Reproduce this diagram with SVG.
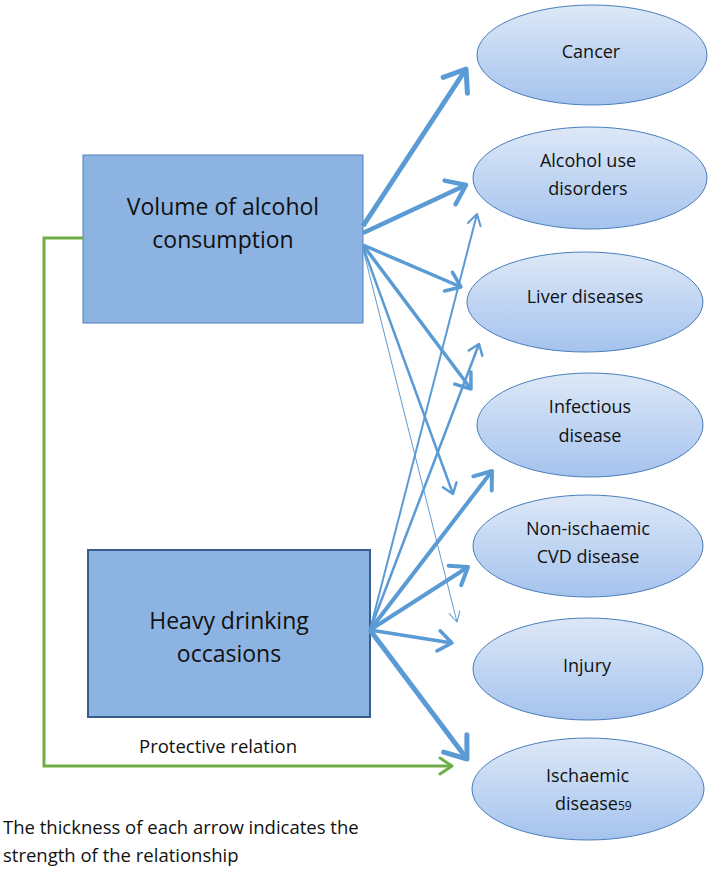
<svg xmlns="http://www.w3.org/2000/svg" width="709" height="869" viewBox="0 0 709 869">
  <style>
    text { font-family: "Open Sans", "Liberation Sans", sans-serif; fill: #111; }
    .box { fill: #8db3e2; }
    .ell { fill: url(#eg); stroke: #4a7ebb; stroke-width: 1; }
    .lbl { font-size: 18px; text-anchor: middle; }
    .big { font-size: 23px; text-anchor: middle; }
    .note { font-size: 18.5px; }
    .c { stroke: #5b9bd5; fill: none; }
    .g { stroke: #70ad47; fill: none; stroke-width: 3; }
  </style>
  <defs>
    <linearGradient id="eg" x1="0" y1="0" x2="0" y2="1">
      <stop offset="0" stop-color="#dde8f7"/>
      <stop offset="1" stop-color="#a5c3ee"/>
    </linearGradient>
    <marker id="ah" viewBox="-5.5 -4 6.5 8" markerWidth="6.5" markerHeight="8" refX="0" refY="0" orient="auto" markerUnits="strokeWidth" overflow="visible">
      <path d="M-3.9,-2.9 L0,0 L-3.9,2.9" fill="none" stroke="#5b9bd5" stroke-width="1" stroke-linejoin="round" stroke-linecap="round"/>
    </marker>
    <marker id="ah2" viewBox="-13 -9 15 18" markerWidth="15" markerHeight="18" refX="0" refY="0" orient="auto" markerUnits="userSpaceOnUse" overflow="visible">
      <path d="M-11,-6.5 L0,0 L-11,6.5" fill="none" stroke="#5b9bd5" stroke-width="2" stroke-linejoin="round" stroke-linecap="round"/>
    </marker>
    <marker id="ah1" viewBox="-11 -7 13 14" markerWidth="13" markerHeight="14" refX="0" refY="0" orient="auto" markerUnits="userSpaceOnUse" overflow="visible">
      <path d="M-10,-5.5 L0,0 L-10,5.5" fill="none" stroke="#5b9bd5" stroke-width="1" stroke-linejoin="round" stroke-linecap="round"/>
    </marker>
    <marker id="ahg" viewBox="-14 -10 16 20" markerWidth="16" markerHeight="20" refX="0" refY="0" orient="auto" markerUnits="userSpaceOnUse" overflow="visible">
      <path d="M-12,-8 L0,0 L-12,8" fill="none" stroke="#70ad47" stroke-width="3" stroke-linejoin="round" stroke-linecap="round"/>
    </marker>
  </defs>

  <g id="volume">
    <rect class="box" x="83" y="155" width="280" height="168" stroke="#4f81bd" stroke-width="1"/>
    <text class="big" x="223" y="215">Volume of alcohol</text>
    <text class="big" x="223" y="248">consumption</text>
  </g>

  <g id="heavy">
    <rect class="box" x="88" y="550" width="282" height="167" stroke="#385d8a" stroke-width="2"/>
    <text class="big" x="229" y="629">Heavy drinking</text>
    <text class="big" x="229" y="662">occasions</text>
  </g>

  <g id="cancer">
    <ellipse class="ell" cx="592" cy="55" rx="115" ry="50"/>
    <text class="lbl" x="591" y="58">Cancer</text>
  </g>
  <g id="aud">
    <ellipse class="ell" cx="590" cy="178" rx="117" ry="51"/>
    <text class="lbl" x="588" y="167">Alcohol use</text>
    <text class="lbl" x="588" y="195">disorders</text>
  </g>
  <g id="liver">
    <ellipse class="ell" cx="585" cy="302" rx="118" ry="50"/>
    <text class="lbl" x="585" y="303">Liver diseases</text>
  </g>
  <g id="infectious">
    <ellipse class="ell" cx="590" cy="425" rx="113" ry="52"/>
    <text class="lbl" x="590" y="413">Infectious</text>
    <text class="lbl" x="590" y="442">disease</text>
  </g>
  <g id="nonischaemic">
    <ellipse class="ell" cx="588" cy="546" rx="115" ry="51"/>
    <text class="lbl" x="588" y="535">Non-ischaemic</text>
    <text class="lbl" x="588" y="563">CVD disease</text>
  </g>
  <g id="injury">
    <ellipse class="ell" cx="588" cy="669" rx="115" ry="51"/>
    <text class="lbl" x="587" y="672">Injury</text>
  </g>
  <g id="ischaemic">
    <ellipse class="ell" cx="588" cy="789" rx="116" ry="51"/>
    <text class="lbl" x="587.5" y="782">Ischaemic</text>
    <text style="font-size:18px" x="555" y="810">disease<tspan style="font-size:12px">59</tspan></text>
  </g>

  <g id="connectors">
    <path class="c" d="M363,226 L466,69" stroke-width="5" marker-end="url(#ah)"/>
    <path class="c" d="M363,233 L466,185" stroke-width="4.5" marker-end="url(#ah)"/>
    <path class="c" d="M363,245 L461,287" stroke-width="3.5" marker-end="url(#ah)"/>
    <path class="c" d="M363,245 L471,389" stroke-width="3.5" marker-end="url(#ah)"/>
    <path class="c" d="M363,247 L453,494" stroke-width="2.5" marker-end="url(#ah)"/>
    <path class="c" d="M363,249 L457,622" stroke-width="1" marker-end="url(#ah1)"/>
    <path class="c" d="M370,630 L477,214" stroke-width="2" marker-end="url(#ah2)"/>
    <path class="c" d="M370,630 L479,344" stroke-width="2.5" marker-end="url(#ah)"/>
    <path class="c" d="M370,630 L492,471" stroke-width="4" marker-end="url(#ah)"/>
    <path class="c" d="M370,630 L468,567" stroke-width="4" marker-end="url(#ah)"/>
    <path class="c" d="M370,630 L452,643" stroke-width="3.5" marker-end="url(#ah)"/>
    <path class="c" d="M370,630 L467,759" stroke-width="5" marker-end="url(#ah)"/>
    <path class="g" d="M83,238 H44 V766 H452" marker-end="url(#ahg)"/>
  </g>

  <text class="note" x="218" y="753" text-anchor="middle">Protective relation</text>
  <text class="note" x="3" y="834">The thickness of each arrow indicates the</text>
  <text class="note" x="3" y="862">strength of the relationship</text>
</svg>
